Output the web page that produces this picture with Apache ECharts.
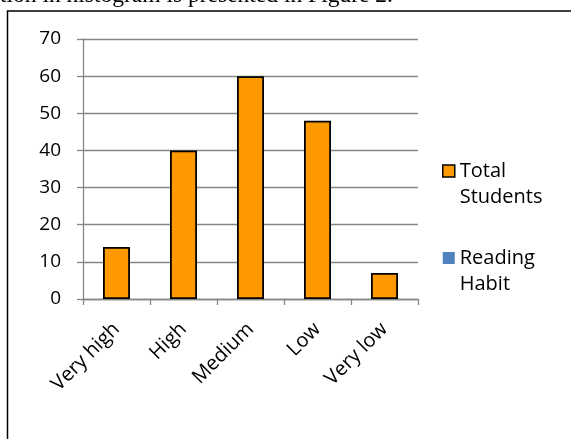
<!DOCTYPE html>
<html>
<head>
<meta charset="utf-8">
<script src="https://cdn.jsdelivr.net/npm/echarts@6/dist/echarts.min.js"></script>
<style>
  html, body { margin: 0; padding: 0; background: #fff; }
  #chart { width: 571px; height: 439px; }
</style>
</head>
<body>
<div id="chart"></div>
<script>
// reading habit levels
var categories = ['Very high', 'High', 'Medium', 'Low', 'Very low'];
var totalStudents = [14, 40, 60, 48, 7];
var readingHabit = [];
var yTicks = [0, 10, 20, 30, 40, 50, 60, 70];

var chart = echarts.init(document.getElementById('chart'));
var option = {
    animation: false,
    backgroundColor: '#fff',
    textStyle: { fontFamily: 'Open Sans' },
    graphic: [
        {
            type: 'text',
            left: 0,
            top: -16,
            style: {
                text: 'tion in histogram is presented in Figure 2.',
                font: '23.5px "Liberation Serif"',
                fill: '#000'
            }
        },
        {
            type: 'rect',
            shape: { x: 7.5, y: 11, width: 600, height: 460 },
            style: { fill: 'none', stroke: '#000', lineWidth: 1.5 }
        }
    ],
    grid: {
        left: 83,
        right: 153,
        top: 39,
        bottom: 140,
        containLabel: false
    },
    legend: {
        orient: 'vertical',
        left: 442,
        top: 132,
        padding: 0,
        icon: 'rect',
        itemWidth: 12,
        itemHeight: 12,
        itemGap: 9,
        data: [
            { name: 'Total Students', itemStyle: { color: '#FF9900', borderColor: '#000', borderWidth: 1.5 } },
            { name: 'Reading Habit', itemStyle: { color: '#4F81BD', borderWidth: 0 } }
        ],
        // blank first line keeps the icon level with the first word
        formatter: function (name) {
            return ' \n' + name.split(' ').join('\n');
        },
        textStyle: {
            fontSize: 20,
            lineHeight: 26,
            color: '#000'
        }
    },
    xAxis: {
        type: 'category',
        data: categories,
        axisLine: { lineStyle: { color: '#868686', width: 1.3 } },
        axisTick: { show: true, length: 6, lineStyle: { color: '#868686', width: 1.3 } },
        axisLabel: {
            rotate: 45,
            margin: 27,
            fontSize: 20,
            color: '#000'
        }
    },
    yAxis: {
        type: 'value',
        min: yTicks[0],
        max: yTicks[yTicks.length - 1],
        interval: 10,
        axisLine: { show: true, lineStyle: { color: '#868686', width: 1.3 } },
        axisTick: { show: true, length: 6, lineStyle: { color: '#868686', width: 1.3 } },
        splitLine: { lineStyle: { color: '#868686', width: 1.3 } },
        axisLabel: {
            margin: 22,
            fontSize: 19,
            color: '#000'
        }
    },
    series: [
        {
            name: 'Total Students',
            type: 'bar',
            data: totalStudents,
            barWidth: 27,
            barGap: '-100%',
            itemStyle: { color: '#FF9900', borderColor: '#000', borderWidth: 1.8 }
        },
        {
            name: 'Reading Habit',
            type: 'bar',
            data: readingHabit,
            barWidth: 27,
            barGap: '-100%',
            itemStyle: { color: '#4F81BD' }
        }
    ]
};
chart.setOption(option);
</script>
</body>
</html>
